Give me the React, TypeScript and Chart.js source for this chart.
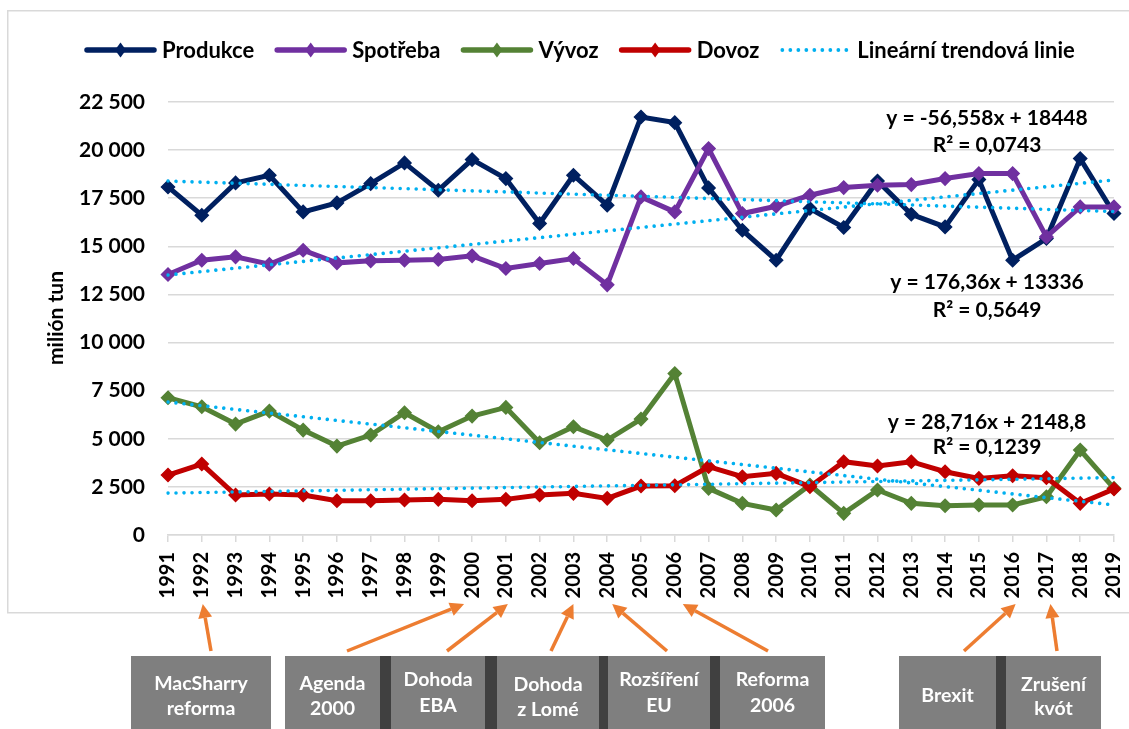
import React, { useEffect, useRef } from 'react';
import { Chart, registerables } from 'chart.js';

Chart.register(...registerables);

// ---------- DATA ----------
const years = [
  '1991', '1992', '1993', '1994', '1995', '1996', '1997', '1998', '1999', '2000',
  '2001', '2002', '2003', '2004', '2005', '2006', '2007', '2008', '2009', '2010',
  '2011', '2012', '2013', '2014', '2015', '2016', '2017', '2018', '2019',
];

const produkce = [
  18086, 16617, 18295, 18694, 16789, 17257, 18261, 19334, 17914, 19508,
  18521, 16184, 18694, 17136, 21722, 21428, 18035, 15838, 14280, 16963,
  15976, 18398, 16668, 16010, 18468, 14280, 15405, 19559, 16703,
];

const spotreba = [
  13536, 14280, 14453, 14072, 14799, 14141, 14245, 14280, 14314, 14505,
  13848, 14107, 14366, 13000, 17568, 16789, 20078, 16703, 17084, 17655,
  18053, 18174, 18209, 18521, 18780, 18780, 15491, 17049, 17049,
];

const vyvoz = [
  7131, 6663, 5764, 6439, 5452, 4621, 5193, 6352, 5366, 6179,
  6629, 4794, 5625, 4933, 6024, 8395, 2423, 1644, 1298, 2596,
  1125, 2337, 1644, 1523, 1558, 1558, 1990, 4414, 2423,
];

const dovoz = [
  3116, 3687, 2077, 2129, 2077, 1783, 1783, 1817, 1852, 1783,
  1852, 2077, 2163, 1904, 2544, 2561, 3548, 3029, 3202, 2510,
  3808, 3583, 3808, 3289, 2942, 3081, 2977, 1644, 2389,
];

const seriesNames = ['Produkce', 'Spotřeba', 'Vývoz', 'Dovoz'];
const trendName = 'Lineární trendová linie';

// linear trend coefficients (y = slope * x + intercept, x = 1..29), order as seriesNames
const trendSlopes = [-56.558, 176.36, -191, 28.716];
const trendIntercepts = [18448, 13336, 7100, 2148.8];

const equationTexts = [
  ['y = -56,558x + 18448', 'R² = 0,0743'],
  ['y = 176,36x + 13336', 'R² = 0,5649'],
  ['y = 28,716x + 2148,8', 'R² = 0,1239'],
];

const yTickMax = 22500;
const yTickStep = 2500;
const yAxisTitle = 'milión tun';

const eventLabels = [
  ['MacSharry', 'reforma'],
  ['Agenda', '2000'],
  ['Dohoda', 'EBA'],
  ['Dohoda', 'z Lomé'],
  ['Rozšíření', 'EU'],
  ['Reforma', '2006'],
  ['Brexit'],
  ['Zrušení', 'kvót'],
];
const eventYears = ['1992', '2000', '2001', '2003', '2004', '2006', '2016', '2017'];

// ---------- LAYOUT / STYLE ----------
const W = 1129;
const H = 729;
const FONT = 'Lato, "Open Sans", "DejaVu Sans", sans-serif';
const colors = ['#002060', '#7030A0', '#548235', '#C00000'];
const trendColor = '#00B0F0';

const eventBoxes = [
  { x0: 131, x1: 271, ty: [684, 709] },
  { x0: 285, x1: 380, ty: [684, 709] },
  { x0: 391, x1: 485, ty: [680, 706] },
  { x0: 497, x1: 599, ty: [685, 710] },
  { x0: 608, x1: 710, ty: [680, 706] },
  { x0: 720, x1: 825, ty: [680, 706] },
  { x0: 899, x1: 996, ty: [696] },
  { x0: 1006, x1: 1101, ty: [685, 709] },
];
const separators = [
  [380, 391], [485, 497], [599, 608], [710, 720], [996, 1006],
];
const arrowTails = [211, 347, 447, 551, 667, 768, 964, 1057];
const arrowTipDx = [1, -8, 2, 0, 5, 8, 3, 4];
const eqPos = [
  [118, 145],
  [282, 310],
  [422, 447],
];

function fmt(v: number) {
  return String(v).replace(/\B(?=(\d{3})+(?!\d))/g, ' ');
}

function drawArrow(ctx: CanvasRenderingContext2D, x1: number, y1: number, x2: number, y2: number) {
  const ang = Math.atan2(y2 - y1, x2 - x1);
  const headLen = 14;
  const headW = 7;
  const c = Math.cos(ang);
  const s = Math.sin(ang);
  const bx = x2 - headLen * c;
  const by = y2 - headLen * s;
  ctx.strokeStyle = '#ED7D31';
  ctx.fillStyle = '#ED7D31';
  ctx.lineWidth = 3.5;
  ctx.lineCap = 'butt';
  ctx.beginPath();
  ctx.moveTo(x1, y1);
  ctx.lineTo(bx, by);
  ctx.stroke();
  ctx.beginPath();
  ctx.moveTo(x2, y2);
  ctx.lineTo(bx - headW * s, by + headW * c);
  ctx.lineTo(bx + headW * s, by - headW * c);
  ctx.closePath();
  ctx.fill();
}

const overlayPlugin = {
  id: 'overlay',
  beforeDraw(chart: any) {
    const ctx: CanvasRenderingContext2D = chart.ctx;
    ctx.save();
    ctx.fillStyle = '#ffffff';
    ctx.fillRect(0, 0, W, H);
    ctx.strokeStyle = '#d9d9d9';
    ctx.lineWidth = 1.5;
    ctx.strokeRect(7.75, 10.75, 1140, 602);
    ctx.restore();
  },
  afterDraw(chart: any) {
    const ctx: CanvasRenderingContext2D = chart.ctx;
    const xs = chart.scales.x;
    ctx.save();

    // legend
    ctx.font = `bold 22px ${FONT}`;
    ctx.textBaseline = 'middle';
    ctx.textAlign = 'left';
    let lx = 84;
    const ly = 50;
    const items = [...seriesNames, trendName];
    items.forEach((name, i) => {
      if (i < seriesNames.length) {
        ctx.strokeStyle = colors[i];
        ctx.lineWidth = 5.5;
        ctx.lineCap = 'round';
        ctx.beginPath();
        ctx.moveTo(lx + 3, ly);
        ctx.lineTo(lx + 70, ly);
        ctx.stroke();
        const cx = lx + 36.5;
        ctx.fillStyle = colors[i];
        ctx.beginPath();
        ctx.moveTo(cx, ly - 7.5);
        ctx.lineTo(cx + 5.5, ly);
        ctx.lineTo(cx, ly + 7.5);
        ctx.lineTo(cx - 5.5, ly);
        ctx.closePath();
        ctx.fill();
      } else {
        ctx.fillStyle = trendColor;
        for (let dx = 3; dx <= 70; dx += 8) {
          ctx.beginPath();
          ctx.arc(lx + dx, ly, 1.9, 0, Math.PI * 2);
          ctx.fill();
        }
      }
      ctx.fillStyle = '#000000';
      ctx.fillText(name, lx + 78, ly + 1);
      lx += 78 + ctx.measureText(name).width + 20;
    });

    // y axis title
    ctx.save();
    ctx.translate(56, 318);
    ctx.rotate(-Math.PI / 2);
    ctx.textAlign = 'center';
    ctx.textBaseline = 'middle';
    ctx.fillStyle = '#000';
    ctx.font = `bold 21px ${FONT}`;
    ctx.fillText(yAxisTitle, 0, 0);
    ctx.restore();

    // trend equations
    ctx.font = `bold 21px ${FONT}`;
    ctx.textAlign = 'center';
    ctx.textBaseline = 'middle';
    ctx.fillStyle = '#000';
    equationTexts.forEach((lines, i) => {
      lines.forEach((t, j) => ctx.fillText(t, 987, eqPos[i][j]));
    });

    // event boxes
    ctx.fillStyle = '#7f7f7f';
    eventBoxes.forEach((b) => ctx.fillRect(b.x0, 656, b.x1 - b.x0, H - 656));
    ctx.fillStyle = '#404040';
    separators.forEach(([a, b]) => ctx.fillRect(a, 656, b - a, H - 656));
    ctx.fillStyle = '#ffffff';
    ctx.font = `bold 19.5px ${FONT}`;
    eventLabels.forEach((lines, i) => {
      const b = eventBoxes[i];
      lines.forEach((t, j) => ctx.fillText(t, (b.x0 + b.x1) / 2, b.ty[j]));
    });

    // arrows
    eventYears.forEach((yr, i) => {
      const idx = years.indexOf(yr);
      const tipX = xs.getPixelForValue(idx) + arrowTipDx[i];
      drawArrow(ctx, arrowTails[i], 651, tipX, 604);
    });

    ctx.restore();
  },
};

export default function App() {
  const ref = useRef<HTMLCanvasElement | null>(null);

  useEffect(() => {
    if (!ref.current) return;
    const series = [produkce, spotreba, vyvoz, dovoz];
    const trendDatasets = series.map((_, i) => ({
      label: `${trendName} ${i + 1}`,
      data: years.map((_, k) => trendSlopes[i] * (k + 1) + trendIntercepts[i]),
      borderColor: trendColor,
      backgroundColor: trendColor,
      borderWidth: 3.6,
      borderDash: [0.01, 8],
      borderCapStyle: 'round' as const,
      pointRadius: 0,
      fill: false,
      tension: 0,
      order: 0,
    }));
    const mainDatasets = series.map((d, i) => ({
      label: seriesNames[i],
      data: d,
      borderColor: colors[i],
      backgroundColor: colors[i],
      borderWidth: 5,
      pointStyle: 'rectRot' as const,
      pointRadius: 6.5,
      pointBorderWidth: 1.5,
      pointBackgroundColor: colors[i],
      pointBorderColor: colors[i],
      fill: false,
      tension: 0,
      order: 4 - i,
    }));

    const chart = new Chart(ref.current, {
      type: 'line',
      data: { labels: years, datasets: [...trendDatasets, ...mainDatasets] as any },
      options: {
        responsive: false,
        animation: false,
        layout: { padding: { left: 8, right: 15, top: 102, bottom: 114 } },
        plugins: {
          legend: { display: false },
          tooltip: { enabled: false },
        },
        scales: {
          x: {
            type: 'category',
            offset: false,
            grid: {
              drawOnChartArea: false,
              drawTicks: true,
              tickLength: 7,
              color: '#d9d9d9',
              lineWidth: 1.5,
            },
            border: { color: '#d9d9d9', width: 1.5 },
            ticks: {
              minRotation: 90,
              maxRotation: 90,
              autoSkip: false,
              padding: 10,
              color: '#000',
              font: { family: FONT, weight: 'bold', size: 20 },
            },
            afterFit: (s: any) => {
              s.height = 80;
              s.paddingLeft = 0;
              s.paddingRight = 0;
            },
          },
          y: {
            min: 0,
            max: yTickMax,
            ticks: {
              stepSize: yTickStep,
              padding: 23,
              color: '#000',
              font: { family: FONT, weight: 'bold', size: 21 },
              callback: (v: any) => fmt(Number(v)),
            },
            grid: { color: '#d9d9d9', lineWidth: 1.5, drawTicks: false },
            border: { display: false },
            afterFit: (s: any) => {
              s.width = 160;
              s.paddingTop = 0;
              s.paddingBottom = 0;
            },
          },
        } as any,
      },
      plugins: [overlayPlugin],
    });
    return () => chart.destroy();
  }, []);

  return (
    <div style={{ position: 'absolute', left: 0, top: 0, width: W, height: H, background: '#fff' }}>
      <canvas ref={ref} width={W} height={H} style={{ display: 'block', width: W, height: H }} />
    </div>
  );
}
